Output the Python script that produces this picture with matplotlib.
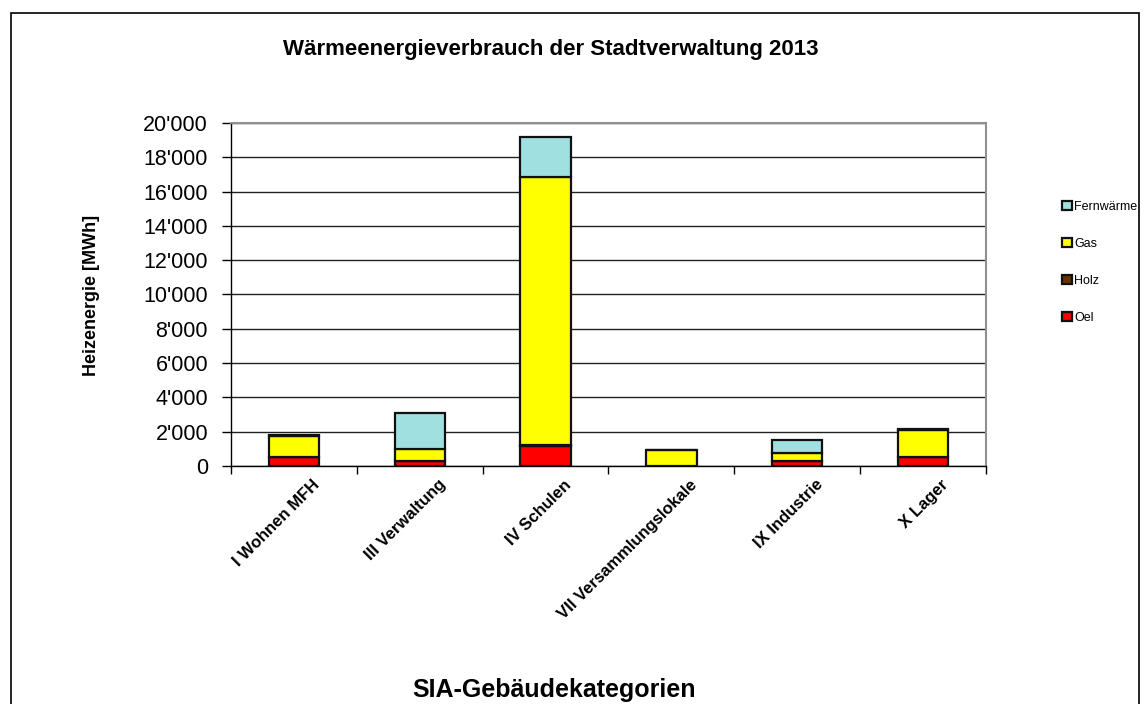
import numpy as np
import matplotlib.pyplot as plt
import matplotlib.transforms as mtransforms
from matplotlib.patches import Rectangle
from matplotlib.ticker import FuncFormatter, FixedLocator

plt.rcParams['font.family'] = ['Liberation Sans', 'DejaVu Sans']

# Data (MWh)
categories = ['I Wohnen MFH', 'III Verwaltung', 'IV Schulen',
              'VII Versammlungslokale', 'IX Industrie', 'X Lager']
oel = np.array([520, 290, 1180, 0, 280, 530])
holz = np.array([20, 0, 40, 0, 0, 20])
gas = np.array([1230, 720, 15650, 915, 480, 1550])
fernwaerme = np.array([30, 2100, 2330, 0, 770, 60])

series = [('Oel', oel, '#FF0000'),
          ('Holz', holz, '#663300'),
          ('Gas', gas, '#FFFF00'),
          ('Fernwärme', fernwaerme, '#A0E0E0')]

fig = plt.figure(figsize=(11.48, 7.04), dpi=100)
ax = fig.add_axes([0.2012, 0.3381, 0.6577, 0.4872])

x = np.arange(len(categories))
bottom = np.zeros(len(categories))
handles = []
for name, vals, col in series:
    b = ax.bar(x, vals, width=0.4, bottom=bottom, color=col,
               edgecolor='#111111', linewidth=1.6, label=name, zorder=3)
    handles.append(b)
    bottom = bottom + vals

ax.set_xlim(-0.5, len(categories) - 0.5)
ax.set_ylim(0, 20000)
ax.set_yticks(np.arange(0, 20001, 2000))
ax.yaxis.set_major_formatter(FuncFormatter(lambda v, p: f"{int(v):,}".replace(',', "'")))
ax.tick_params(axis='y', labelsize=15.5, length=6.5, width=1, direction='out', pad=10)
ax.grid(axis='y', color='#222222', linewidth=1, zorder=0)

ax.set_xticks(x)
ax.set_xticklabels(categories, rotation=45, ha='right', rotation_mode='anchor',
                   fontsize=12, fontweight='bold')
ax.tick_params(axis='x', which='major', length=0, pad=8)
shift = mtransforms.ScaledTranslation(18 / 100, 0, fig.dpi_scale_trans)
for lbl in ax.get_xticklabels():
    lbl.set_transform(lbl.get_transform() + shift)
ax.xaxis.set_minor_locator(FixedLocator(np.arange(-0.5, len(categories), 1)))
ax.tick_params(axis='x', which='minor', length=6, width=1, direction='out')

for s in ['left', 'bottom']:
    ax.spines[s].set_color('black')
    ax.spines[s].set_linewidth(1)
for s in ['top', 'right']:
    ax.spines[s].set_color('#909090')
    ax.spines[s].set_linewidth(1.5)

fig.text(92 / 1148, 1 - 295 / 704, 'Heizenergie [MWh]', rotation=90,
         ha='center', va='center', fontsize=13, fontweight='bold')
fig.text(0.483, 1 - 690 / 704, 'SIA-Gebäudekategorien', ha='center', va='center',
         fontsize=18, fontweight='bold')
fig.text(0.48, 1 - 50 / 704, 'Wärmeenergieverbrauch der Stadtverwaltung 2013',
         ha='center', va='center', fontsize=16, fontweight='bold')

leg = fig.legend(handles[::-1], [s[0] for s in series][::-1],
                 loc='upper left', bbox_to_anchor=(0.9155, 0.731),
                 frameon=False, fontsize=9, handlelength=0.75, handleheight=0.75,
                 handletextpad=0.2, labelspacing=2.0)

fig.patches.append(Rectangle((11 / 1148, -0.01), 1128 / 1148, 1 - 13 / 704 + 0.01,
                             transform=fig.transFigure, fill=False,
                             edgecolor='black', linewidth=1.2))

fig.savefig('out.png', dpi=100)
